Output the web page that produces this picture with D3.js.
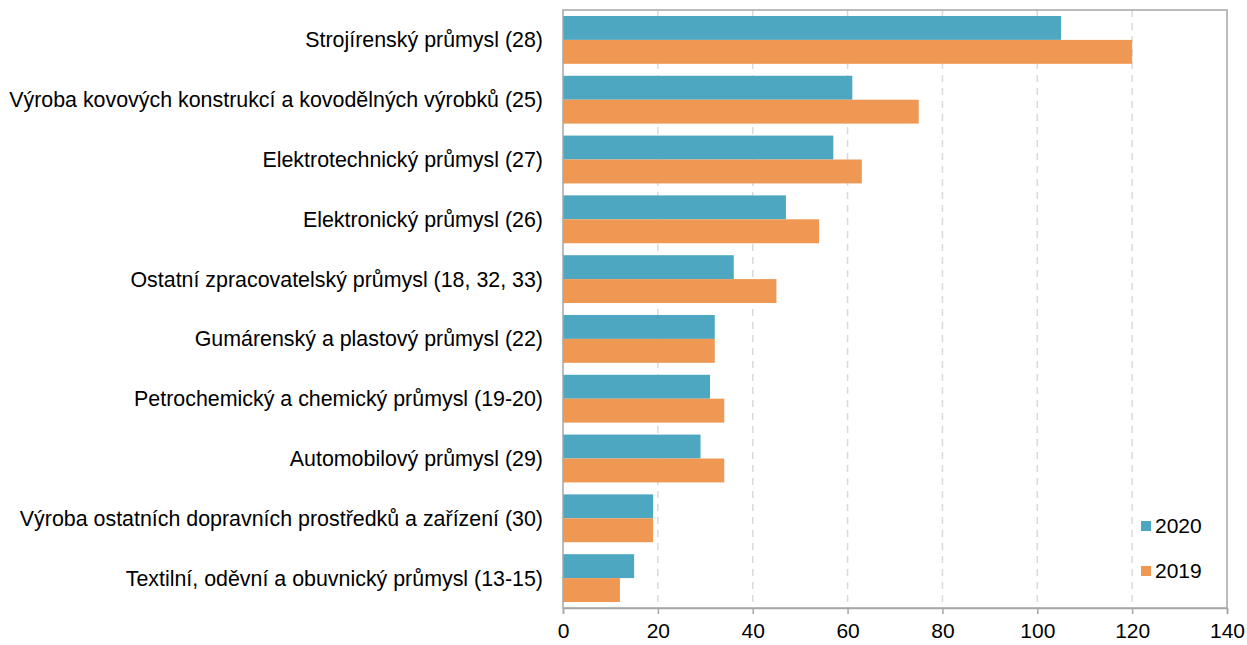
<!DOCTYPE html>
<html><head><meta charset="utf-8">
<script src="https://cdn.jsdelivr.net/npm/d3@7"></script>
<style>body{margin:0;background:#fff;} svg{display:block;font-family:"Liberation Sans",Arial,sans-serif;}</style>
</head><body>
<svg id="c" width="1247" height="645"></svg>
<script>
const categories = [
  "Strojírenský průmysl (28)",
  "Výroba kovových konstrukcí a kovodělných výrobků (25)",
  "Elektrotechnický průmysl (27)",
  "Elektronický průmysl (26)",
  "Ostatní zpracovatelský průmysl (18, 32, 33)",
  "Gumárenský a plastový průmysl (22)",
  "Petrochemický a chemický průmysl (19-20)",
  "Automobilový průmysl (29)",
  "Výroba ostatních dopravních prostředků a zařízení (30)",
  "Textilní, oděvní a obuvnický průmysl (13-15)"
];
const seriesNames = ["2020", "2019"];
const values2020 = [105, 61, 57, 47, 36, 32, 31, 29, 19, 15];
const values2019 = [120, 75, 63, 54, 45, 32, 34, 34, 19, 12];
const xTicks = [0, 20, 40, 60, 80, 100, 120, 140];
const colors = ["#4ea7c0", "#ee9853"];

const svg = d3.select("#c");
const m = {l: 563, r: 1227, t: 10, b: 608};
const x = d3.scaleLinear().domain([0, 140]).range([m.l, m.r]);
const y = d3.scaleBand().domain(categories).range([m.t, m.b]).paddingInner(0.2).paddingOuter(0.1);
const ys = d3.scaleBand().domain(seriesNames).range([0, y.bandwidth()]);

// gridlines
svg.append("g").selectAll("line").data(xTicks.filter(d => d > 0 && d < 140)).join("line")
  .attr("x1", d => x(d)).attr("x2", d => x(d)).attr("y1", m.t).attr("y2", m.b)
  .attr("stroke", "#d9d9d9").attr("stroke-width", 1.5).attr("stroke-dasharray", "7,6");

// bars
const series = [values2020, values2019];
series.forEach((vals, si) => {
  svg.append("g").selectAll("rect").data(vals).join("rect")
    .attr("x", x(0)).attr("y", (d, i) => y(categories[i]) + ys(seriesNames[si]))
    .attr("width", d => x(d) - x(0)).attr("height", ys.bandwidth())
    .attr("fill", colors[si]);
});

// frame
svg.append("rect").attr("x", m.l).attr("y", m.t).attr("width", m.r - m.l).attr("height", m.b - m.t)
  .attr("fill", "none").attr("stroke", "#a6a6a6").attr("stroke-width", 1.5);

// x axis
const xa = svg.append("g").attr("transform", `translate(0,${m.b})`)
  .call(d3.axisBottom(x).tickValues(xTicks).tickSize(6).tickPadding(9).tickFormat(d3.format("d")));
xa.select(".domain").attr("stroke", "#a6a6a6").attr("stroke-width", 1.5);
xa.selectAll(".tick line").attr("stroke", "#a6a6a6").attr("stroke-width", 1.5);
xa.selectAll("text").attr("font-size", 21).attr("fill", "#000").attr("font-family", "Liberation Sans, Arial, sans-serif");

// y labels
svg.append("g").selectAll("text").data(categories).join("text")
  .attr("x", 543).attr("y", d => y(d) + y.bandwidth() / 2).attr("dy", "0.35em")
  .attr("text-anchor", "end").attr("font-size", 21.4).attr("fill", "#000").text(d => d);

// legend
const lg = svg.append("g");
seriesNames.forEach((s, i) => {
  const ly = 526 + i * 45;
  lg.append("rect").attr("x", 1141).attr("y", ly - 5).attr("width", 10).attr("height", 10).attr("fill", colors[i]);
  lg.append("text").attr("x", 1155).attr("y", ly).attr("dy", "0.35em").attr("font-size", 21).attr("fill", "#000").text(s);
});
</script>
</body></html>
